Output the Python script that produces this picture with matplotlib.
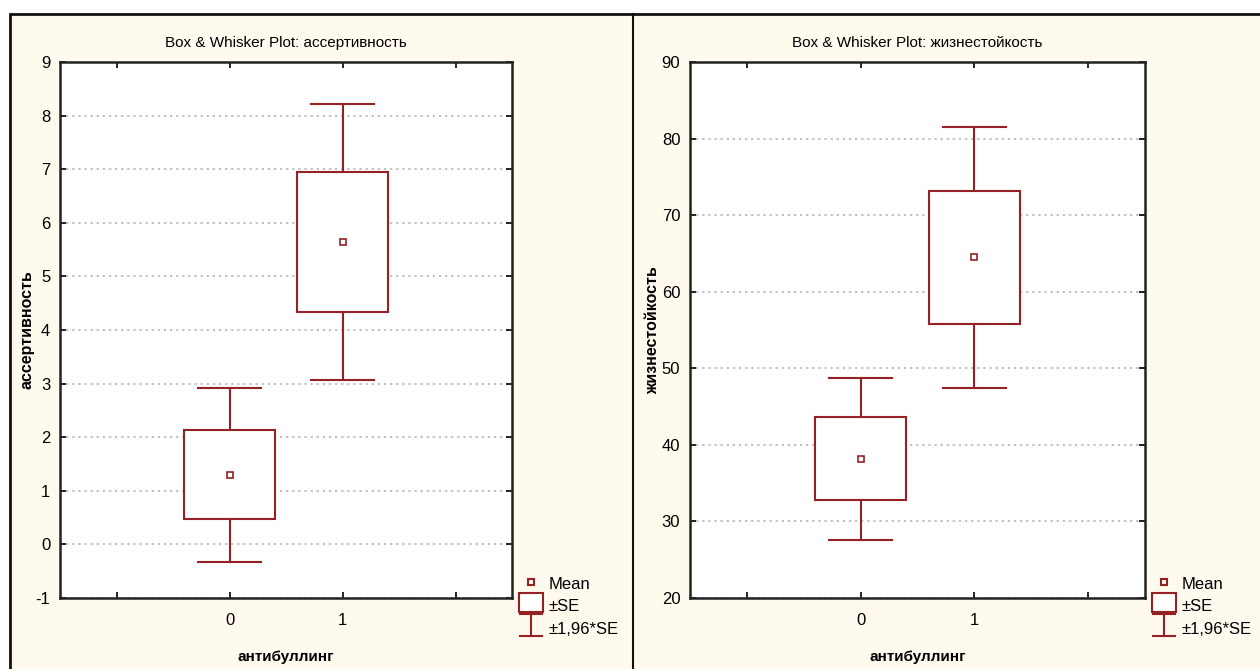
import numpy as np
import matplotlib
matplotlib.use("Agg")
import matplotlib.pyplot as plt
from matplotlib.patches import Rectangle
from matplotlib.lines import Line2D
from matplotlib.legend_handler import HandlerBase

plt.rcParams['font.family'] = ['Liberation Sans Narrow', 'Liberation Sans', 'DejaVu Sans']
plt.rcParams['axes.unicode_minus'] = False

# ---------------- data ----------------
groups = [0, 1]
group_labels = ['0', '1']
xlabel = 'антибуллинг'

assert_mean = [1.30, 5.64]
assert_se = [0.83, 1.31]

hardy_mean = [38.2, 64.5]
hardy_se = [5.4, 8.7]

RED = '#952125'
CREAM = '#FFF9EE'


class WhiskerHandler(HandlerBase):
    def create_artists(self, legend, orig_handle, xd, yd, width, height, fontsize, trans):
        cx = xd + width / 2.0
        lo, hi = yd - 3, yd + height + 2
        w = width * 0.45
        arts = [Line2D([cx, cx], [lo, hi]),
                Line2D([cx - w, cx + w], [lo, lo]),
                Line2D([cx - w, cx + w], [hi, hi])]
        for a in arts:
            a.set_color(RED)
            a.set_linewidth(1.5)
            a.set_transform(trans)
        return arts


class BoxHandler(HandlerBase):
    def create_artists(self, legend, orig_handle, xd, yd, width, height, fontsize, trans):
        r = Rectangle((xd, yd - 2), width, height + 3, facecolor='white',
                      edgecolor=RED, linewidth=1.5, transform=trans)
        return [r]


def box_whisker(ax, means, ses, ylim, yticks, title, ylabel):
    means = np.array(means)
    ses = np.array(ses)
    bw = 0.80
    cw = 0.56
    for x, m, s in zip(groups, means, ses):
        ax.add_patch(Rectangle((x - bw / 2, m - s), bw, 2 * s, facecolor='white',
                               edgecolor=RED, linewidth=1.5, zorder=3))
        ax.plot([x, x], [m + s, m + 1.96 * s], color=RED, lw=1.5, zorder=3)
        ax.plot([x, x], [m - s, m - 1.96 * s], color=RED, lw=1.5, zorder=3)
        ax.plot([x - cw / 2, x + cw / 2], [m + 1.96 * s] * 2, color=RED, lw=1.5, zorder=3)
        ax.plot([x - cw / 2, x + cw / 2], [m - 1.96 * s] * 2, color=RED, lw=1.5, zorder=3)
    ax.plot(groups, means, linestyle='none', marker='s', ms=4, mfc='white',
            mec=RED, mew=1.2, zorder=4)

    ax.set_xlim(-1.5, 2.5)
    ax.set_xticks([-1, 0, 1, 2])
    ax.set_xticklabels(['', group_labels[0], group_labels[1], ''])
    ax.set_ylim(*ylim)
    ax.set_yticks(yticks)
    ax.set_facecolor('white')
    for sp in ax.spines.values():
        sp.set_linewidth(1.8)
        sp.set_color('#222222')
    ax.tick_params(direction='in', top=True, right=True, length=4, width=1.2,
                   labelsize=12, pad=7)
    ax.tick_params(axis='x', pad=11)
    ax.yaxis.grid(True, linestyle=(0, (1.5, 2.5)), color='#b0b0b0', lw=1.1)
    ax.set_axisbelow(True)
    ax.set_title(title, fontsize=11, pad=11)
    ax.set_ylabel(ylabel, fontsize=11.5, fontweight='bold', labelpad=1)
    ax.set_xlabel(xlabel, fontsize=11, fontweight='bold', labelpad=16)

    h_mean = Line2D([], [], linestyle='none', marker='s', ms=5, mfc='white',
                    mec=RED, mew=1.5)
    h_box = Rectangle((0, 0), 1, 1)
    h_wh = Line2D([], [])
    ax.legend([h_mean, h_box, h_wh], ['Mean', '±SE', '±1,96*SE'],
              handler_map={Rectangle: BoxHandler(), h_wh: WhiskerHandler()},
              loc='upper left', bbox_to_anchor=(1.015, 0.042), frameon=False,
              fontsize=12, handlelength=1.45, handleheight=1.0, handletextpad=0.35,
              labelspacing=0.38, borderaxespad=0, borderpad=0)


fig = plt.figure(figsize=(12.6, 6.69), dpi=100)
fig.patch.set_facecolor('white')
W, H = 1260.0, 669.0

# panel background
fig.patches.append(Rectangle((10 / W, -0.01), 1.0, (H - 14) / H + 0.01,
                             transform=fig.transFigure, facecolor=CREAM,
                             edgecolor='#111111', linewidth=2, zorder=-10))
fig.lines.append(Line2D([633 / W, 633 / W], [0, (H - 14) / H],
                        transform=fig.transFigure, color='#111111', lw=1.5,
                        zorder=-9))

ax1 = fig.add_axes([60 / W, (H - 598) / H, 452 / W, 536 / H])
ax2 = fig.add_axes([690 / W, (H - 598) / H, 455 / W, 536 / H])

box_whisker(ax1, assert_mean, assert_se, (-1, 9), np.arange(-1, 10, 1),
            'Box & Whisker Plot: ассертивность', 'ассертивность')
box_whisker(ax2, hardy_mean, hardy_se, (20, 90), np.arange(20, 91, 10),
            'Box & Whisker Plot: жизнестойкость', 'жизнестойкость')

fig.savefig('out.png', dpi=100, facecolor=fig.get_facecolor())
